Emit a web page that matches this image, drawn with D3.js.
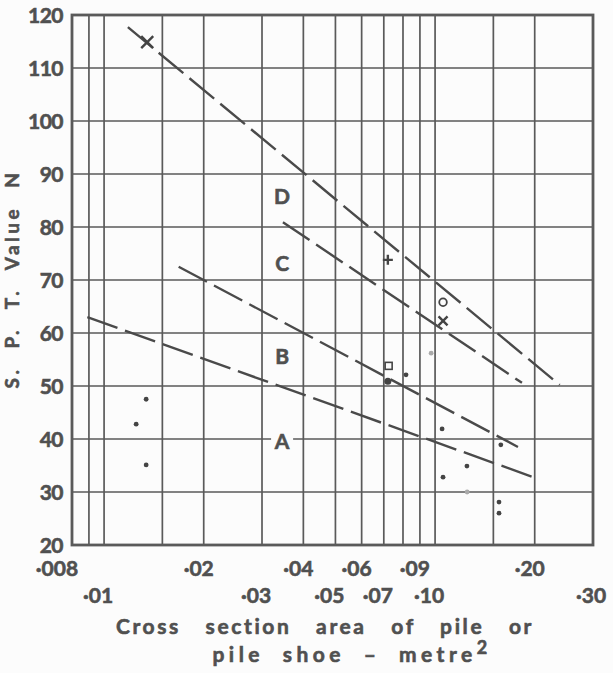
<!DOCTYPE html>
<html>
<head>
<meta charset="utf-8">
<script src="https://cdn.jsdelivr.net/npm/d3@7"></script>
<style>
  body { margin: 0; background: #fcfcfc; }
  svg text { font-family: Lato, "Open Sans", sans-serif; font-weight: 700; fill: #505050; stroke: #505050; stroke-width: 0.6px; }
</style>
</head>
<body>
<div id="chart"></div>
<script>
// axis ticks / grid
var yTicks = [20, 30, 40, 50, 60, 70, 80, 90, 100, 110, 120];
var xGrid = [0.009, 0.01, 0.015, 0.02, 0.03, 0.04, 0.05, 0.06, 0.07, 0.08, 0.09, 0.10, 0.15, 0.20];
var xTicksTop = [0.008, 0.02, 0.04, 0.06, 0.09, 0.20];
var xLabelsTop = ["·008", "·02", "·04", "·06", "·09", "·20"];
var xTicksBottom = [0.01, 0.03, 0.05, 0.07, 0.10, 0.30];
var xLabelsBottom = ["·01", "·03", "·05", "·07", "·10", "·30"];

// dashed trend lines A-D : [area, N] at each end
var lineNames = ["A", "B", "C", "D"];
var lineStart = [[0.0089, 63.0], [0.0168, 72.5], [0.0347, 80.9], [0.0118, 117.7]];
var lineEnd = [[0.198, 32.8], [0.178, 38.5], [0.183, 50.6], [0.238, 50.2]];
var labelX = [0.0345, 0.0345, 0.0345, 0.0345];
var labelY = [39.6, 55.5, 73.2, 85.7];

// observations
var dotX = [0.0134, 0.0125, 0.0134, 0.0973, 0.0817, 0.105, 0.158, 0.1248, 0.1057, 0.125, 0.156, 0.156, 0.072];
var dotY = [47.5, 42.8, 35.1, 56.2, 52.1, 41.9, 38.9, 34.9, 32.8, 30.0, 28.1, 26.0, 50.9];
var crossX = [0.0135, 0.1057];
var crossY = [114.9, 62.3];
var plusX = [0.072], plusY = [73.8];
var circleX = [0.1057], circleY = [65.8];
var squareX = [0.0724], squareY = [53.8];

var margin = {top: 15, right: 20, bottom: 128, left: 72},
    width = 593 - margin.left,
    height = 545 - margin.top;

var x = d3.scaleLog().domain([0.008, 0.30]).range([0, width]);
var y = d3.scaleLinear().domain([20, 120]).range([height, 0]);

var svg = d3.select("#chart").append("svg")
    .attr("width", 613)
    .attr("height", 673)
  .append("g")
    .attr("transform", "translate(" + margin.left + "," + margin.top + ")");

var ink = "#5a5a5a";

// grid
svg.selectAll(".vgrid")
  .data(xGrid)
  .enter().append("line")
    .attr("x1", d => x(d)).attr("x2", d => x(d))
    .attr("y1", 0).attr("y2", height)
    .style("stroke", ink).style("stroke-width", 1.7);

svg.selectAll(".hgrid")
  .data(yTicks)
  .enter().append("line")
    .attr("x1", 0).attr("x2", width)
    .attr("y1", d => y(d)).attr("y2", d => y(d))
    .style("stroke", ink).style("stroke-width", 1.7);

svg.append("rect")
    .attr("width", width).attr("height", height)
    .style("fill", "none").style("stroke", ink).style("stroke-width", 2.8);

// y tick labels
svg.selectAll(".ylab")
  .data(yTicks)
  .enter().append("text")
    .attr("x", -9)
    .attr("y", d => y(d))
    .attr("dy", "0.36em")
    .attr("text-anchor", "end")
    .style("font-size", "21px")
    .style("letter-spacing", "-0.5px")
    .text(d => d);

// x tick labels, two staggered rows
svg.selectAll(".xtop")
  .data(xTicksTop)
  .enter().append("text")
    .attr("x", (d, i) => i === 0 ? x(d) - 15 : x(d) - 5)
    .attr("y", height + 31)
    .attr("text-anchor", "middle")
    .style("font-size", "21px")
    .text((d, i) => xLabelsTop[i]);

svg.selectAll(".xbot")
  .data(xTicksBottom)
  .enter().append("text")
    .attr("x", (d, i) => i === xTicksBottom.length - 1 ? x(d) - 2 : x(d) - 6)
    .attr("y", height + 58)
    .attr("text-anchor", "middle")
    .style("font-size", "21px")
    .text((d, i) => xLabelsBottom[i]);

// axis titles
svg.append("text")
    .attr("x", 253)
    .attr("y", height + 89)
    .attr("text-anchor", "middle")
    .style("font-size", "21px")
    .style("letter-spacing", "2.6px")
    .style("word-spacing", "17px")
    .text("Cross section area of pile or");

var t2 = svg.append("text")
    .attr("x", 280)
    .attr("y", height + 117)
    .attr("text-anchor", "middle")
    .style("font-size", "21px")
    .style("letter-spacing", "4.5px")
    .style("word-spacing", "9px")
    .text("pile shoe \u2013 metre");
t2.append("tspan").attr("dy", "-8").style("font-size", "18px").text("2");

svg.append("text")
    .attr("transform", "translate(-60," + 264 + ") rotate(-90)")
    .attr("text-anchor", "middle")
    .attr("dy", "0.35em")
    .style("font-size", "19px")
    .style("letter-spacing", "3.5px")
    .style("word-spacing", "10px")
    .text("S. P. T.  Value  N");

// trend lines
svg.selectAll(".trend")
  .data(lineNames)
  .enter().append("line")
    .attr("x1", (d, i) => x(lineStart[i][0]))
    .attr("y1", (d, i) => y(lineStart[i][1]))
    .attr("x2", (d, i) => x(lineEnd[i][0]))
    .attr("y2", (d, i) => y(lineEnd[i][1]))
    .style("stroke", "#4a4a4a")
    .style("stroke-width", 2.4)
    .style("stroke-dasharray", "32,8");

// line labels on a white patch
var labs = svg.selectAll(".tlab")
  .data(lineNames)
  .enter().append("g")
    .attr("transform", (d, i) => "translate(" + x(labelX[i]) + "," + y(labelY[i]) + ")");
labs.append("rect")
    .attr("x", -11).attr("y", -11).attr("width", 22).attr("height", 22)
    .style("fill", "#fcfcfc");
labs.append("text")
    .attr("text-anchor", "middle")
    .attr("dy", "0.36em")
    .style("font-size", "21px")
    .text(d => d);

// markers
svg.selectAll(".dot")
  .data(dotX)
  .enter().append("circle")
    .attr("cx", d => x(d))
    .attr("cy", (d, i) => y(dotY[i]))
    .attr("r", (d, i) => i === dotX.length - 1 ? 3.5 : 2.4)
    .style("fill", (d, i) => i === 9 || i === 3 ? "#aaa" : "#444");

svg.selectAll(".cross")
  .data(crossX)
  .enter().append("path")
    .attr("transform", (d, i) => "translate(" + x(d) + "," + y(crossY[i]) + ")")
    .attr("d", (d, i) => i === 0 ? "M-6,-6L6,6M-6,6L6,-6" : "M-4.5,-4.5L4.5,4.5M-4.5,4.5L4.5,-4.5")
    .style("stroke", "#444").style("stroke-width", 2.4);

svg.selectAll(".plus")
  .data(plusX)
  .enter().append("path")
    .attr("transform", (d, i) => "translate(" + x(d) + "," + y(plusY[i]) + ")")
    .attr("d", "M-5,0L5,0M0,-5L0,5")
    .style("stroke", "#444").style("stroke-width", 2.4);

svg.selectAll(".ring")
  .data(circleX)
  .enter().append("circle")
    .attr("cx", d => x(d))
    .attr("cy", (d, i) => y(circleY[i]))
    .attr("r", 3.8)
    .style("fill", "none").style("stroke", "#444").style("stroke-width", 1.8);

svg.selectAll(".square")
  .data(squareX)
  .enter().append("rect")
    .attr("x", d => x(d) - 3.5)
    .attr("y", (d, i) => y(squareY[i]) - 3.5)
    .attr("width", 7).attr("height", 7)
    .style("fill", "none").style("stroke", "#444").style("stroke-width", 1.6);
</script>
</body>
</html>
